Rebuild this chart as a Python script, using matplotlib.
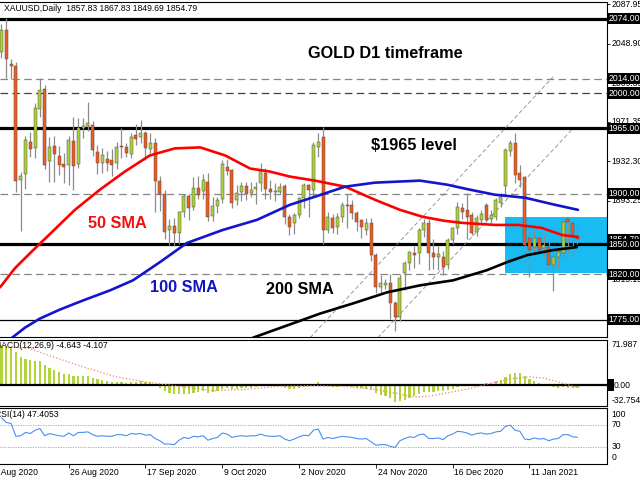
import matplotlib
matplotlib.use('Agg')

import matplotlib.pyplot as plt
import numpy as np
from matplotlib.patches import Rectangle

plt.rcParams['font.family'] = ['Liberation Sans', 'DejaVu Sans']

header = 'XAUUSD,Daily  1857.83 1867.83 1849.69 1854.79'
macd_title = 'MACD(12,26,9) -4.643 -4.107'
rsi_title = 'RSI(14) 47.4053'

# daily candles, 6 Aug 2020 .. 25 Jan 2021 (bar index 0..120)
opens = [2041, 2063, 2029, 2027, 1914, 1920, 1951, 1945, 1984, 2004,
         1932, 1947, 1937, 1930, 1929, 1952, 1930, 1965, 1967, 1968,
         1941, 1931, 1934, 1933, 1931, 1947, 1946, 1939, 1958, 1956,
         1960, 1944, 1950, 1913, 1900, 1864, 1868, 1861, 1882, 1898,
         1887, 1906, 1903, 1912, 1878, 1888, 1895, 1927, 1924, 1894,
         1902, 1908, 1901, 1905, 1911, 1921, 1905, 1902, 1902, 1908,
         1877, 1871, 1879, 1896, 1909, 1904, 1946, 1956, 1864, 1876,
         1867, 1877, 1889, 1889, 1881, 1874, 1864, 1871, 1839, 1807,
         1809, 1811, 1791, 1778, 1821, 1831, 1841, 1841, 1864, 1871,
         1841, 1837, 1837, 1829, 1854, 1866, 1886, 1884, 1879, 1862,
         1874, 1889, 1875, 1877, 1891, 1908, 1942, 1950, 1921, 1917,
         1856, 1847, 1856, 1846, 1847, 1829, 1837, 1841, 1875, 1871,
         1857.83]
highs = [2069, 2075, 2034, 2031, 1922, 1957, 1961, 1990, 2015, 2008,
         1956, 1957, 1947, 1940, 1957, 1976, 1975, 1975, 1991, 1972,
         1948, 1945, 1942, 1944, 1951, 1965, 1950, 1960, 1969, 1973,
         1962, 1960, 1955, 1918, 1904, 1875, 1876, 1883, 1900, 1900,
         1917, 1918, 1920, 1921, 1897, 1897, 1933, 1934, 1925, 1909,
         1912, 1912, 1912, 1912, 1931, 1926, 1914, 1911, 1911, 1910,
         1880, 1881, 1897, 1911, 1910, 1951, 1960, 1966, 1882, 1880,
         1881, 1892, 1900, 1894, 1883, 1875, 1876, 1876, 1841, 1819,
         1815, 1820, 1793, 1820, 1833, 1843, 1848, 1866, 1875, 1875,
         1855, 1848, 1843, 1856, 1867, 1892, 1891, 1901, 1882, 1879,
         1884, 1891, 1884, 1896, 1901, 1945, 1953, 1960, 1929, 1918,
         1865, 1864, 1863, 1860, 1855, 1840, 1845, 1873, 1877, 1876,
         1867.83]
lows = [2035, 2015, 2014, 1902, 1863, 1905, 1936, 1935, 1976, 1925,
        1912, 1912, 1919, 1911, 1909, 1904, 1926, 1955, 1962, 1937,
        1920, 1921, 1923, 1918, 1925, 1935, 1936, 1935, 1948, 1950,
        1933, 1940, 1882, 1883, 1855, 1849, 1848, 1850, 1877, 1874,
        1884, 1895, 1895, 1873, 1873, 1881, 1891, 1919, 1886, 1889,
        1893, 1894, 1897, 1890, 1903, 1895, 1895, 1893, 1900, 1870,
        1859, 1860, 1876, 1886, 1877, 1897, 1936, 1850, 1861, 1861,
        1860, 1872, 1866, 1875, 1863, 1856, 1859, 1833, 1801, 1800,
        1805, 1776, 1764, 1774, 1804, 1824, 1826, 1830, 1857, 1824,
        1825, 1824, 1819, 1825, 1850, 1860, 1875, 1855, 1859, 1858,
        1870, 1872, 1871, 1874, 1887, 1899, 1937, 1911, 1907, 1829,
        1817, 1839, 1841, 1837, 1826, 1803, 1826, 1836, 1841, 1836,
        1849.69]
closes = [2063, 2034, 2027, 1913, 1918, 1953, 1944, 1985, 2003, 1929,
          1946, 1939, 1929, 1927, 1953, 1928, 1965, 1967, 1970, 1943,
          1931, 1938, 1931, 1929, 1946, 1946, 1940, 1956, 1954, 1960,
          1945, 1950, 1913, 1900, 1862, 1868, 1861, 1882, 1898, 1886,
          1906, 1899, 1914, 1877, 1888, 1894, 1930, 1923, 1891, 1901,
          1908, 1900, 1904, 1907, 1923, 1905, 1902, 1902, 1907, 1877,
          1867, 1879, 1896, 1909, 1904, 1948, 1951, 1864, 1877, 1866,
          1877, 1889, 1888, 1881, 1872, 1867, 1871, 1839, 1807, 1811,
          1811, 1791, 1778, 1816, 1831, 1842, 1839, 1864, 1871, 1841,
          1837, 1840, 1827, 1854, 1866, 1887, 1882, 1877, 1861, 1876,
          1880, 1874, 1879, 1894, 1897, 1943, 1950, 1919, 1914, 1849,
          1844, 1856, 1844, 1849, 1829, 1837, 1842, 1872, 1872, 1859,
          1854.79]

# moving averages (bar index, price)
sma50_x = [-0.3, 2.8, 6.6, 10.1, 15.3, 20.5, 25.7, 30.9, 36.1, 41.4, 46.6, 51.8,
           55.9, 60.1, 65.3, 71.6, 77.8, 83.0, 87.8, 92.4, 96.1, 102.8, 107.6,
           112.6, 116.8, 120.0]
sma50_y = [1807, 1826, 1844, 1860, 1884, 1904, 1922, 1938, 1945, 1946, 1938, 1925,
           1922, 1917, 1913, 1907, 1894, 1884, 1877, 1873, 1871, 1869, 1869,
           1866, 1859, 1857]
sma100_x = [2.2, 4.9, 8.0, 12.2, 17.0, 22.6, 27.4, 33.0, 38.6, 46.1, 53.2, 60.1,
            65.3, 71.6, 77.8, 87.2, 92.8, 97.6, 102.8, 109.1, 115.3, 120.1]
sma100_y = [1757, 1767, 1776, 1785, 1794, 1804, 1814, 1832, 1851, 1864, 1874, 1889,
            1897, 1907, 1911, 1913, 1909, 1904, 1899, 1896, 1889, 1884]
sma200_x = [52.4, 66.4, 73.2, 80.3, 87.2, 94.1, 101.1, 105.3, 109.5, 114.9, 119.9]
sma200_y = [1757, 1781, 1791, 1802, 1809, 1814, 1824, 1832, 1839, 1844, 1847]

# ascending channel (bar index, price)
channel_upper = ([64.3, 114.9], [1757, 2016])
channel_lower = ([78.4, 119.1], [1757, 1965])

# support / resistance levels
solid_levels = [2074, 1965, 1850]
dashed_levels = [2014, 2000, 1900, 1820]
thin_level = 1775
box_levels = [2074, 2014, 2000, 1965, 1900, 1850, 1820, 1775]
scale_ticks = [2087.95, 2048.90, 2009.85, 1971.35, 1932.30, 1893.25, 1815.15, 1776.10]
zone = (104.9, 1821, 1877)

macd = [64, 63, 60, 52, 45, 42, 40, 39, 38, 32,
        28, 24, 21, 18, 17, 15, 15, 14, 14, 12,
        9, 8, 6, 5, 5, 5, 4, 5, 5, 6,
        5, 5, 1, -4, -10, -13, -15, -15, -14, -14,
        -12, -11, -10, -12, -11, -10, -6, -5, -7, -6,
        -5, -5, -4, -3, -2, -2, -2, -2, -2, -4,
        -6, -6, -5, -3, -2, 2, 5, -1, -2, -3,
        -3, -2, -2, -3, -4, -5, -6, -8, -13, -16,
        -18, -21, -27, -26, -24, -21, -18, -14, -11, -11,
        -11, -10, -10, -8, -6, -3, -2, -1, 0, 1,
        2, 3, 4, 6, 8, 13, 17, 20, 19, 14,
        10, 7, 4, 1, -1, -3, -4, -3, -4, -5,
        -4.643]
signal_x = [0, 6, 10, 17, 24, 30, 34, 38, 44, 51, 58, 65, 71, 77, 82, 86, 89, 94,
            98, 102, 106, 110, 113, 116, 120]
signal_y = [63, 58, 47, 29, 13, 5, 1, -3, -9, -7, -2, -1, -2, -6, -13, -19, -18, -11,
            -5, 3, 10, 13, 11, 5, -4.107]

rsi = [82, 74, 72, 49, 50, 56, 54, 60, 63, 50,
       54, 52, 50, 49, 55, 50, 56, 56, 57, 52,
       49, 50, 49, 49, 52, 52, 50, 54, 53, 54,
       51, 52, 45, 41, 35, 35, 34, 42, 47, 45,
       49, 48, 50, 42, 45, 47, 55, 53, 47, 49,
       50, 49, 50, 50, 53, 50, 49, 49, 50, 44,
       41, 44, 48, 51, 50, 60, 62, 44, 47, 45,
       47, 49, 48, 47, 45, 44, 45, 39, 33, 34,
       34, 31, 29, 41, 45, 48, 47, 52, 53, 45,
       45, 46, 43, 50, 53, 58, 57, 55, 51, 54,
       55, 53, 54, 57, 58, 67, 69, 60, 58, 44,
       43, 46, 44, 45, 41, 44, 45, 52, 52, 48,
       47.4053]

date_ticks = [-2, 14, 30, 46, 62, 78, 94, 110]
date_labels = ['4 Aug 2020', '26 Aug 2020', '17 Sep 2020', '9 Oct 2020',
               '2 Nov 2020', '24 Nov 2020', '16 Dec 2020', '11 Jan 2021']

W, H = 640, 480
FS = 6.2
BULL = '#aed236'
BEAR = '#f05a1e'


def panel(fig, top, bottom):
    ax = fig.add_axes([0, 1 - bottom / H, 607 / W, (bottom - top) / H])
    ax.set_xlim(-0.31, 126.15)
    ax.spines['left'].set_visible(False)
    for s in ('top', 'right', 'bottom'):
        ax.spines[s].set_linewidth(0.8)
    ax.set_xticks([])
    ax.yaxis.tick_right()
    ax.tick_params(axis='y', length=2.5, width=0.6, labelright=False)
    return ax


def right_label(ax, y, s, boxed=False, trans=None):
    tr = trans if trans is not None else ax.get_yaxis_transform()
    if boxed:
        ax.text(1.0025, y, s, transform=tr, ha='left', va='center', fontsize=FS,
                color='white', zorder=6, clip_on=False,
                bbox=dict(boxstyle='square,pad=0.12', fc='black', ec='none'))
    else:
        ax.text(1.008, y, s, transform=tr, ha='left', va='center', fontsize=FS,
                color='black', zorder=5, clip_on=False)


fig = plt.figure(figsize=(6.4, 4.8), dpi=100)

# ---- main price panel
ax = panel(fig, 2, 337)
ax.set_ylim(1757.7, 2090.4)
x = np.arange(len(opens))
o = np.array(opens)
c = np.array(closes)

ax.add_patch(Rectangle((zone[0], zone[1]), 30, zone[2] - zone[1],
                       facecolor='#18bcf2', edgecolor='none', zorder=1))

for lv in solid_levels:
    ax.axhline(lv, color='black', lw=2.3, zorder=2)
for lv in dashed_levels:
    ax.axhline(lv, color='#404040' if lv == 2000 else '#858585', lw=0.9,
               ls=(0, (6, 3.5)), zorder=2)
ax.axhline(thin_level, color='black', lw=0.9, zorder=2)

for cx, cy in (channel_upper, channel_lower):
    ax.plot(cx, cy, color='#8a8a8a', lw=0.6, ls=(0, (5, 3)), zorder=2)

ax.vlines(x, lows, highs, color='#8c8c8c', lw=0.9, zorder=3)
colors = [BULL if cc >= oo else BEAR for oo, cc in zip(o, c)]
ax.bar(x, np.maximum(np.abs(c - o), 1.0), bottom=np.minimum(o, c), width=0.64,
       color=colors, edgecolor='#505050', linewidth=0.35, zorder=4)

ax.plot(sma50_x, sma50_y, color='#ff0000', lw=1.9, zorder=5, solid_capstyle='round')
ax.plot(sma100_x, sma100_y, color='#1414cc', lw=1.9, zorder=5, solid_capstyle='round')
ax.plot(sma200_x, sma200_y, color='black', lw=1.9, zorder=5, solid_capstyle='round')

txt = dict(fontsize=11.7, fontweight='bold', ha='center', va='center', zorder=7)
ax.text(79.9, 2038.8, 'GOLD D1 timeframe', color='black', **txt)
ax.text(85.9, 1947.4, '$1965 level', color='black', **txt)
ax.text(24.1, 1870, '50 SMA', color='#f01010', **txt)
ax.text(38.0, 1807.3, '100 SMA', color='#1414c0', **txt)
ax.text(62.2, 1805.3, '200 SMA', color='black', **txt)

ax.text(0.0066, 0.982, header, transform=ax.transAxes, fontsize=FS, ha='left', va='center')

ax.set_yticks(scale_ticks)
for v in scale_ticks:
    right_label(ax, v, '%.2f' % v)
right_label(ax, 1854.79, '1854.79', boxed=True)
for v in box_levels:
    right_label(ax, v, '%.2f' % v, boxed=True)

# ---- MACD panel
ax2 = panel(fig, 340, 405.5)
ax2.set_ylim(-32.754, 71.987)
ax2.bar(x, macd, width=0.45, color='#b2d33c', zorder=2)
ax2.axhline(0, color='black', lw=1.6, zorder=3)
ax2.plot(signal_x, signal_y, color='#f4845f', lw=0.9, ls=':', zorder=4)
ax2.set_yticks([])
ax2.text(-0.0099, 0.92, macd_title, transform=ax2.transAxes, fontsize=FS, ha='left', va='center')
right_label(ax2, 0.938, '71.987', trans=ax2.transAxes)
right_label(ax2, 0.07, '-32.754', trans=ax2.transAxes)
ax2.text(1.0025, 0, '0', transform=ax2.get_yaxis_transform(), ha='left', va='center',
         fontsize=FS, color='black', clip_on=False,
         bbox=dict(boxstyle='square,pad=0.12', fc='black', ec='none'))
ax2.text(1.011, 0, '0.00', transform=ax2.get_yaxis_transform(), ha='left', va='center',
         fontsize=FS, color='black', clip_on=False)

# ---- RSI panel
ax3 = panel(fig, 408, 463.5)
ax3.set_ylim(0, 100)
ax3.axhline(70, color='#a0a0a0', lw=0.6, ls=(0, (1.5, 1.5)))
ax3.axhline(30, color='#a0a0a0', lw=0.6, ls=(0, (1.5, 1.5)))
ax3.plot(x, rsi, color='#4a8ff0', lw=0.8)
ax3.set_yticks([])
ax3.text(-0.0085, 0.875, rsi_title, transform=ax3.transAxes, fontsize=FS, ha='left', va='center')
for yy, s in ((0.89, '100'), (0.7, '70'), (0.3, '30'), (0.1, '0')):
    right_label(ax3, yy, s, trans=ax3.transAxes)

ax3.set_xticks([t for t in date_ticks if t >= 0])
ax3.tick_params(axis='x', length=3, width=0.6, labelbottom=False)
for t, s in zip(date_ticks, date_labels):
    ax3.text(t + 0.35, -0.155, s, transform=ax3.get_xaxis_transform(), ha='left',
             va='center', fontsize=FS, clip_on=False)

fig.savefig('out.png', dpi=100)
